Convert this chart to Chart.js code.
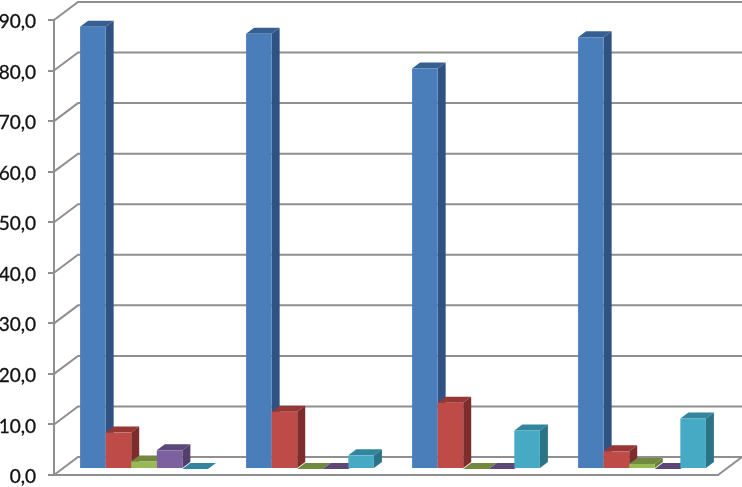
<!DOCTYPE html>
<html>
<head>
<meta charset="utf-8">
<title>Chart</title>
<script src="https://cdn.jsdelivr.net/npm/chart.js@4"></script>
<style>
    html, body { margin: 0; padding: 0; background: #fff; }
    #wrap { width: 742px; height: 487px; }
</style>
</head>
<body>
<div id="wrap"><canvas id="myChart"></canvas></div>
<script>
// no category names are printed in the picture
const categories = ['', '', '', ''];

const seriesBlue = [87.5, 86.1, 79.2, 85.4];
const seriesRed = [7.2, 11.3, 13.1, 3.5];
const seriesGreen = [1.5, 0, 0, 1.0];
const seriesPurple = [3.7, 0, 0, 0];
const seriesCyan = [0, 2.7, 7.6, 10.0];

const frontColors = ['#4a7ebb', '#be4b48', '#98b954', '#7d60a0', '#46aac5'];
const topColors = ['#376092', '#953735', '#71893f', '#5c4776', '#31859c'];
const sideColors = ['#2f5283', '#7d2e2c', '#6a8138', '#523f6b', '#2b7488'];

const gridColor = '#8f8f8f';

// depth of the whole floor and of one bar, in px
const wallDx = 24, wallDy = -18;
const barDx = 8, barDy = -6;

const box3d = {
    id: 'box3d',
    beforeDatasetsDraw(chart) {
        const { ctx, scales: { x, y } } = chart;
        ctx.save();
        ctx.strokeStyle = gridColor;
        ctx.lineWidth = 2;
        y.ticks.forEach((tick) => {
            const py = y.getPixelForValue(tick.value);
            ctx.beginPath();
            ctx.moveTo(x.left, py);
            ctx.lineTo(x.left + wallDx, py + wallDy);
            ctx.lineTo(x.right + wallDx, py + wallDy);
            ctx.stroke();
        });
        // right edge of the floor
        ctx.beginPath();
        ctx.moveTo(x.right, y.bottom);
        ctx.lineTo(x.right + wallDx, y.bottom + wallDy);
        ctx.stroke();
        ctx.restore();

        // datasets go left to right, so the next bar covers the side of the last one
        ctx.save();
        ctx.translate(barDx - 1, barDy);
        chart.data.datasets.forEach((ds, i) => {
            chart.getDatasetMeta(i).data.forEach((bar) => {
                const left = bar.x - bar.width / 2;
                const right = bar.x + bar.width / 2;
                // top
                ctx.fillStyle = topColors[i];
                ctx.beginPath();
                ctx.moveTo(left, bar.y);
                ctx.lineTo(left + barDx, bar.y + barDy);
                ctx.lineTo(right + barDx, bar.y + barDy);
                ctx.lineTo(right, bar.y);
                ctx.closePath();
                ctx.fill();
                // side
                ctx.fillStyle = sideColors[i];
                ctx.beginPath();
                ctx.moveTo(right, bar.y);
                ctx.lineTo(right + barDx, bar.y + barDy);
                ctx.lineTo(right + barDx, bar.base + barDy);
                ctx.lineTo(right, bar.base);
                ctx.closePath();
                ctx.fill();
                bar.draw(ctx);
            });
        });
        ctx.restore();
    },
    beforeDatasetDraw() {
        return false; // already drawn above
    }
};

const allSeries = [seriesBlue, seriesRed, seriesGreen, seriesPurple, seriesCyan];

const data = {
    labels: categories,
    datasets: allSeries.map((values, i) => ({
        data: values,
        backgroundColor: frontColors[i],
        borderWidth: 0,
        categoryPercentage: 0.77,
        barPercentage: 1
    }))
};

const config = {
    type: 'bar',
    data: data,
    options: {
        responsive: false,
        animation: false,
        layout: { padding: { left: 0, right: 24, top: 20, bottom: 12 } },
        plugins: { legend: { display: false }, tooltip: { enabled: false } },
        scales: {
            x: {
                ticks: { display: false },
                grid: { display: false },
                border: { display: true, color: gridColor, width: 2 },
                afterFit(scale) { scale.height = 0; }
            },
            y: {
                min: 0,
                max: 90,
                ticks: {
                    stepSize: 10,
                    color: '#111111',
                    padding: 12,
                    labelOffset: 2,
                    textStrokeColor: '#111111',
                    textStrokeWidth: 0.3,
                    font: { family: 'Lato', size: 19 },
                    callback: (value) => value.toFixed(1).replace('.', ',')
                },
                grid: { drawOnChartArea: false, color: gridColor, lineWidth: 2, tickLength: 6 },
                border: { display: true, color: gridColor, width: 2 },
                afterFit(scale) {
                    scale.width = 54;
                    scale.paddingTop = 0;
                    scale.paddingBottom = 0;
                }
            }
        }
    },
    plugins: [box3d]
};

const canvas = document.getElementById('myChart');
canvas.width = 742;
canvas.height = 487;
const myChart = new Chart(canvas, config);
</script>
</body>
</html>
